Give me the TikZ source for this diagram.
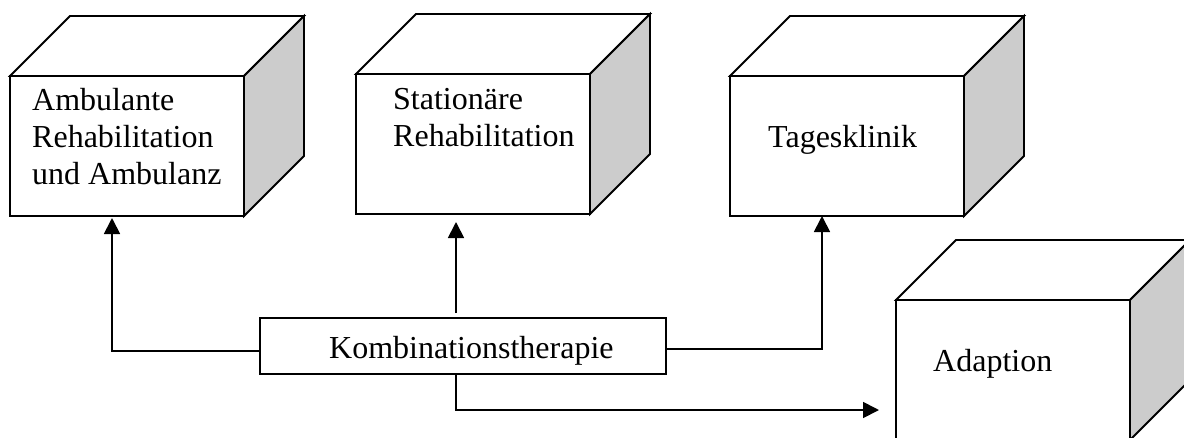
\documentclass[tikz,border=0pt]{standalone}
\usepackage{fontspec}
\setmainfont{Liberation Serif}
\usetikzlibrary{arrows.meta,calc}
\definecolor{sidegray}{RGB}{204,204,204}
\tikzset{
  frontface/.style={draw, line width=1.8pt, fill=white, minimum width=234pt, minimum height=140pt, inner sep=0pt, outer sep=0pt},
  topface/.style={draw, line width=1.8pt, fill=white, line join=miter},
  sideface/.style={draw, line width=1.8pt, fill=sidegray, line join=miter},
  boxlabel/.style={anchor=base west, align=left, inner sep=0pt, font=\fontsize{32}{37}\selectfont},
  conn/.style={line width=1.8pt},
  arr/.style={conn, -{Triangle[length=16pt,width=16pt]}},
  kbox/.style={draw, line width=1.8pt, fill=white, minimum width=406pt, minimum height=56pt, inner sep=0pt, outer sep=0pt}
}
\newcommand{\cubesides}[1]{%
  \draw[topface] (#1.north west) -- ++(60,-60) -- ($(#1.north east)+(60,-60)$) -- (#1.north east) -- cycle;
  \draw[sideface] (#1.north east) -- ++(60,-60) -- ($(#1.south east)+(60,-60)$) -- (#1.south east) -- cycle;
}
\begin{document}
\begin{tikzpicture}[x=1pt,y=-1pt]
\useasboundingbox (0,0) rectangle (1184,437);
\clip (0,0) rectangle (1184,437);
\fill[white] (0,0) rectangle (1184,437);

% cubes
\node[frontface] (amb) at (127,146) {};
\cubesides{amb}
\node[frontface] (stat) at (473,144) {};
\cubesides{stat}
\node[frontface] (tag) at (847,146) {};
\cubesides{tag}
\node[frontface] (adap) at (1013,370) {};
\cubesides{adap}

% labels (base = baseline of last line)
\node[boxlabel] (tamb) at (32,184) {Ambulante\\Rehabilitation\\und Ambulanz};
\node[boxlabel] (tstat) at (393,146) {Stationäre\\Rehabilitation};
\node[boxlabel] (ttag) at (768,147) {Tagesklinik};
\node[boxlabel] (tadap) at (933,371) {Adaption};

% central box
\node[kbox] (komb) at (463,346) {};
\node[boxlabel] (tkomb) at (329,358) {Kombinationstherapie};

% connectors
\draw[arr] ($(komb.west)+(0,5)$) -| ($(amb.south)+(-15,2)$);
\draw[arr] ($(komb.north)+(-7,-5)$) -- ($(stat.south)+(-17,8)$);
\draw[arr] ($(komb.east)+(0,3)$) -| ($(tag.south)+(-25,0)$);
\draw[arr] ($(komb.south)+(-7,0)$) |- ($(adap.west)+(-17,40)$);
\end{tikzpicture}
\end{document}
